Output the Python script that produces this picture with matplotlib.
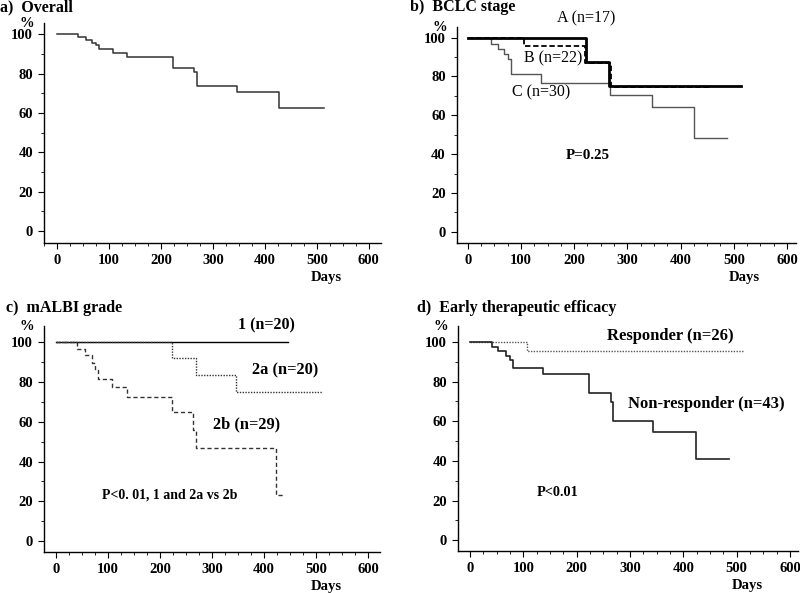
import matplotlib
matplotlib.use("Agg")
from matplotlib import pyplot as plt
from matplotlib.ticker import MultipleLocator

plt.rcParams['font.family'] = ['Liberation Serif', 'DejaVu Serif']

# a) Overall
a_days = [0, 40, 55, 68, 76, 81, 107, 135, 224, 264, 269, 346, 427, 514]
a_surv = [100, 98.6, 97.1, 95.7, 94.3, 92.4, 90.4, 88.6, 83.0, 80.6, 73.8, 70.4, 62.6, 62.6]

# b) BCLC stage
bA_days = [0, 223, 266, 513]
bA_surv = [100, 87.3, 75.3, 75.3]
bB_days = [0, 106, 221, 269, 454]
bB_surv = [100, 95.5, 86.8, 74.6, 74.6]
bC_days = [0, 43, 56, 69, 76, 81, 138, 268, 346, 426, 487]
bC_surv = [100, 96.9, 94.2, 91.7, 89.0, 81.5, 76.5, 70.4, 64.2, 48.2, 48.2]

# c) mALBI grade
c1_days = [0, 446]
c1_surv = [100, 100]
c2a_days = [0, 224, 269, 346, 512]
c2a_surv = [100, 92.0, 83.3, 75.1, 75.1]
c2b_days = [0, 41, 55, 69, 76, 80, 107, 137, 224, 264, 269, 424, 440]
c2b_surv = [100, 96.6, 93.6, 89.5, 86.0, 81.7, 77.5, 72.5, 64.9, 55.8, 46.6, 23.3, 23.3]

# d) Early therapeutic efficacy
dR_days = [0, 106, 513]
dR_surv = [100, 95.3, 95.3]
dN_days = [0, 41, 53, 68, 75, 81, 136, 224, 264, 269, 344, 424, 486]
dN_surv = [100, 97.7, 95.4, 93.0, 90.7, 87.0, 83.8, 74.4, 69.7, 60.0, 54.4, 41.2, 41.2]

fig = plt.figure(figsize=(8, 5.93), dpi=100)


def km_axes(rect, xlim, ylim):
    ax = fig.add_axes(rect)
    ax.set_xlim(*xlim)
    ax.set_ylim(*ylim)
    for s in ['top', 'right']:
        ax.spines[s].set_visible(False)
    ax.spines['left'].set_linewidth(1.0)
    ax.spines['bottom'].set_linewidth(1.0)
    ax.set_xticks(range(0, 601, 100))
    ax.set_yticks(range(0, 101, 20))
    ax.xaxis.set_minor_locator(MultipleLocator(25))
    ax.yaxis.set_minor_locator(MultipleLocator(10))
    ax.tick_params(which='major', direction='out', length=4, width=0.8,
                   labelsize=10.5, pad=4)
    ax.tick_params(which='minor', direction='out', length=2, width=0.6)
    for lab in ax.get_xticklabels() + ax.get_yticklabels():
        lab.set_fontweight('bold')
    ax.text(-0.05, 1.0, '%', transform=ax.transAxes, fontsize=10.5,
            fontweight='bold', ha='center', va='center')
    ax.text(519, ylim[0] - 17.5, 'Days', fontsize=10.5, fontweight='bold',
            ha='center', va='center', clip_on=False)
    return ax


# panel a
ax = km_axes([0.055, 0.590, 0.421, 0.371], (-25, 623), (-6.1, 105.6))
ax.step(a_days, a_surv, where='post', color='#333333', lw=1.1)
fig.text(0.0, 0.988, 'a)  Overall', fontsize=11.5, fontweight='bold', va='center')

# panel b
ax = km_axes([0.571, 0.590, 0.424, 0.364], (-20.6, 617), (-5.8, 105.3))
ax.step(bC_days, bC_surv, where='post', color='#555555', lw=1.0)
ax.step(bB_days, bB_surv, where='post', color='black', lw=1.3, ls=(0, (3, 1.5)))
ax.step(bA_days, bA_surv, where='post', color='black', lw=2.0)
ax.text(223, 110, 'A (n=17)', fontsize=11.5, ha='center', va='center', clip_on=False)
ax.text(160, 89.3, 'B (n=22)', fontsize=11.5, ha='center', va='center')
ax.text(137, 71.9, 'C (n=30)', fontsize=11.5, ha='center', va='center')
ax.text(225, 39.4, 'P=0.25', fontsize=10.8, fontweight='bold', ha='center', va='center')
fig.text(0.513, 0.988, 'b)  BCLC stage', fontsize=11.5, fontweight='bold', va='center')

# panel c
ax = km_axes([0.055, 0.069, 0.42, 0.381], (-23, 623), (-5.5, 108))
ax.step(c1_days, c1_surv, where='post', color='black', lw=1.0)
ax.step(c2a_days, c2a_surv, where='post', color='#333333', lw=1.0, ls=(0, (1, 1)))
ax.step(c2b_days, c2b_surv, where='post', color='#333333', lw=1.0, ls=(0, (3, 2)))
ax.text(405, 108.5, '1 (n=20)', fontsize=11.5, fontweight='bold', ha='center', va='center',
        clip_on=False)
ax.text(440, 85.6, '2a (n=20)', fontsize=11.8, fontweight='bold', ha='center', va='center')
ax.text(367, 58.8, '2b (n=29)', fontsize=11.8, fontweight='bold', ha='center', va='center')
ax.text(219, 23.3, 'P<0. 01, 1 and 2a vs 2b', fontsize=10, fontweight='bold',
        ha='center', va='center')
fig.text(0.008, 0.481, 'c)  mALBI grade', fontsize=11.5, fontweight='bold', va='center')

# panel d
ax = km_axes([0.5725, 0.071, 0.425, 0.379], (-22.5, 615), (-5.4, 108))
ax.step(dR_days, dR_surv, where='post', color='#555555', lw=1.0, ls=(0, (1, 1)))
ax.step(dN_days, dN_surv, where='post', color='#222222', lw=1.2)
ax.text(376, 102.9, 'Responder (n=26)', fontsize=12, fontweight='bold',
        ha='center', va='center')
ax.text(443, 68.7, 'Non-responder (n=43)', fontsize=12, fontweight='bold',
        ha='center', va='center')
ax.text(164, 23.9, 'P<0.01', fontsize=10.3, fontweight='bold', ha='center', va='center')
fig.text(0.521, 0.481, 'd)  Early therapeutic efficacy', fontsize=11.5,
         fontweight='bold', va='center')

plt.savefig('out.png', dpi=100)
